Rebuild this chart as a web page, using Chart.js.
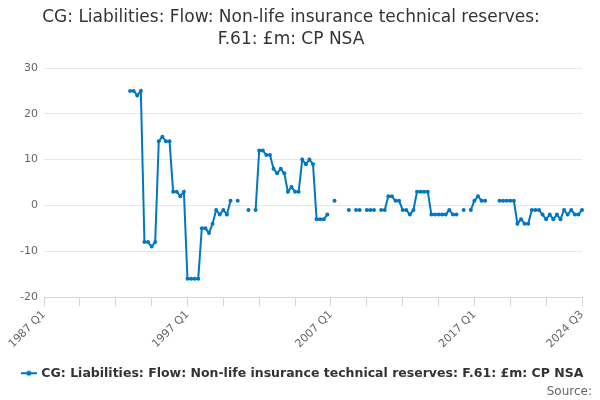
<!DOCTYPE html>
<html>
<head>
<meta charset="utf-8">
<script src="https://cdn.jsdelivr.net/npm/chart.js@4/dist/chart.umd.min.js"></script>
<style>
html,body{margin:0;padding:0;background:#fff;}
#wrap{width:600px;height:400px;position:relative;}
</style>
</head>
<body>
<div id="wrap"><canvas id="c"></canvas></div>
<script>
const titleLines = ["CG: Liabilities: Flow: Non-life insurance technical reserves:", "F.61: £m: CP NSA"];
const seriesName = "CG: Liabilities: Flow: Non-life insurance technical reserves: F.61: £m: CP NSA";
const sourceText = "Source:";
const firstYear = 1987;
const lastYear = 2024;
const lastQuarter = 3;
const shownTickLabels = ["1987 Q1", "1997 Q1", "2007 Q1", "2017 Q1", "2024 Q3"];
const yTicks = [-20, -10, 0, 10, 20, 30];

// quarterly categories 1987 Q1 .. 2024 Q3
const categories = [];
for (let y = firstYear; y <= lastYear; y++) {
  for (let q = 1; q <= 4; q++) {
    if (y === lastYear && q > lastQuarter) break;
    categories.push(y + " Q" + q);
  }
}

const values = [
  // 1987-1992
  null,null,null,null, null,null,null,null, null,null,null,null,
  null,null,null,null, null,null,null,null, null,null,null,null,
  // 1993
  25,25,24,25,
  // 1994
  -8,-8,-9,-8,
  // 1995
  14,15,14,14,
  // 1996
  3,3,2,3,
  // 1997
  -16,-16,-16,-16,
  // 1998
  -5,-5,-6,-4,
  // 1999
  -1,-2,-1,-2,
  // 2000
  1,null,1,null,
  // 2001
  null,-1,null,-1,
  // 2002
  12,12,11,11,
  // 2003
  8,7,8,7,
  // 2004
  3,4,3,3,
  // 2005
  10,9,10,9,
  // 2006
  -3,-3,-3,-2,
  // 2007
  null,1,null,null,
  // 2008
  null,-1,null,-1,
  // 2009
  -1,null,-1,-1,
  // 2010
  -1,null,-1,-1,
  // 2011
  2,2,1,1,
  // 2012
  -1,-1,-2,-1,
  // 2013
  3,3,3,3,
  // 2014
  -2,-2,-2,-2,
  // 2015
  -2,-1,-2,-2,
  // 2016
  null,-1,null,-1,
  // 2017
  1,2,1,1,
  // 2018
  null,null,null,1,
  // 2019
  1,1,1,1,
  // 2020
  -4,-3,-4,-4,
  // 2021
  -1,-1,-1,-2,
  // 2022
  -3,-2,-3,-2,
  // 2023
  -3,-1,-2,-1,
  // 2024
  -2,-2,-1
];

const lineColor = '#0077c3';

function legendMarker() {
  const c = document.createElement('canvas');
  c.width = 16; c.height = 8;
  const x = c.getContext('2d');
  x.strokeStyle = lineColor; x.lineWidth = 2;
  x.beginPath(); x.moveTo(0, 4); x.lineTo(16, 4); x.stroke();
  x.fillStyle = lineColor;
  x.beginPath(); x.arc(8, 4, 2.5, 0, Math.PI * 2); x.fill();
  return c;
}

const marker = legendMarker();

// Title and source notes drawn as text on the canvas
const textPlugin = {
  id: 'textNotes',
  afterDraw(chart) {
    const ctx = chart.ctx;
    ctx.save();
    ctx.font = '17px "DejaVu Sans"';
    ctx.fillStyle = '#333333';
    ctx.textAlign = 'center';
    ctx.textBaseline = 'middle';
    titleLines.forEach((line, i) => {
      ctx.fillText(line, 291, 18 + i * 22);
    });
    ctx.font = '12px "DejaVu Sans"';
    ctx.fillStyle = '#666666';
    ctx.textAlign = 'right';
    ctx.fillText(sourceText, chart.width - 8, chart.height - 8);
    ctx.restore();
  }
};

new Chart(document.getElementById('c'), {
  type: 'line',
  data: {
    labels: categories,
    datasets: [{
      label: seriesName,
      data: values,
      borderColor: lineColor,
      backgroundColor: lineColor,
      borderWidth: 2,
      pointRadius: 2,
      pointHoverRadius: 2,
      pointBorderWidth: 0,
      spanGaps: false,
      tension: 0,
      yAxisID: 'y'
    }]
  },
  plugins: [textPlugin],
  options: {
    responsive: true,
    maintainAspectRatio: false,
    animation: false,
    layout: { padding: { left: 6, right: 0, top: 68, bottom: 10.5 } },
    plugins: {
      tooltip: { enabled: false },
      title: { display: false },
      legend: {
        display: true,
        position: 'bottom',
        labels: {
          color: '#333333',
          font: { family: 'DejaVu Sans', size: 12.5, weight: 'bold' },
          usePointStyle: true,
          pointStyle: marker,
          padding: 8,
          generateLabels: (chart) => [{
            text: seriesName,
            pointStyle: marker,
            fillStyle: lineColor,
            strokeStyle: lineColor,
            fontColor: '#333333',
            lineWidth: 0,
            datasetIndex: 0
          }]
        }
      }
    },
    scales: {
      x: {
        type: 'category',
        offset: false,
        border: { display: true, color: '#ccd6eb', width: 1 },
        grid: {
          display: true,
          drawOnChartArea: false,
          drawTicks: true,
          tickLength: 9,
          color: (ctx) => (ctx.index % 10 === 0 ? '#ccd6eb' : 'rgba(0,0,0,0)')
        },
        ticks: {
          autoSkip: false,
          minRotation: 45,
          maxRotation: 45,
          color: '#666666',
          font: { family: 'DejaVu Sans', size: 11 },
          padding: 2,
          callback: function(v, i) {
            const lab = categories[i];
            return shownTickLabels.includes(lab) ? lab : '';
          }
        },
        afterFit: (s) => { s.height = 62; }
      },
      y: {
        position: 'left',
        min: yTicks[0],
        max: yTicks[yTicks.length - 1],
        border: { display: false },
        grid: { color: '#e6e6e6', drawTicks: false },
        afterBuildTicks: (s) => { s.ticks = yTicks.map(v => ({ value: v })); },
        ticks: {
          color: '#666666',
          font: { family: 'DejaVu Sans', size: 11 },
          padding: 6
        },
        afterFit: (s) => { s.width = 38; }
      },
      yRight: {
        position: 'right',
        display: true,
        border: { display: false },
        grid: { display: false, drawTicks: false },
        ticks: { display: false },
        afterFit: (s) => { s.width = 18; }
      }
    }
  }
});
</script>
</body>
</html>
